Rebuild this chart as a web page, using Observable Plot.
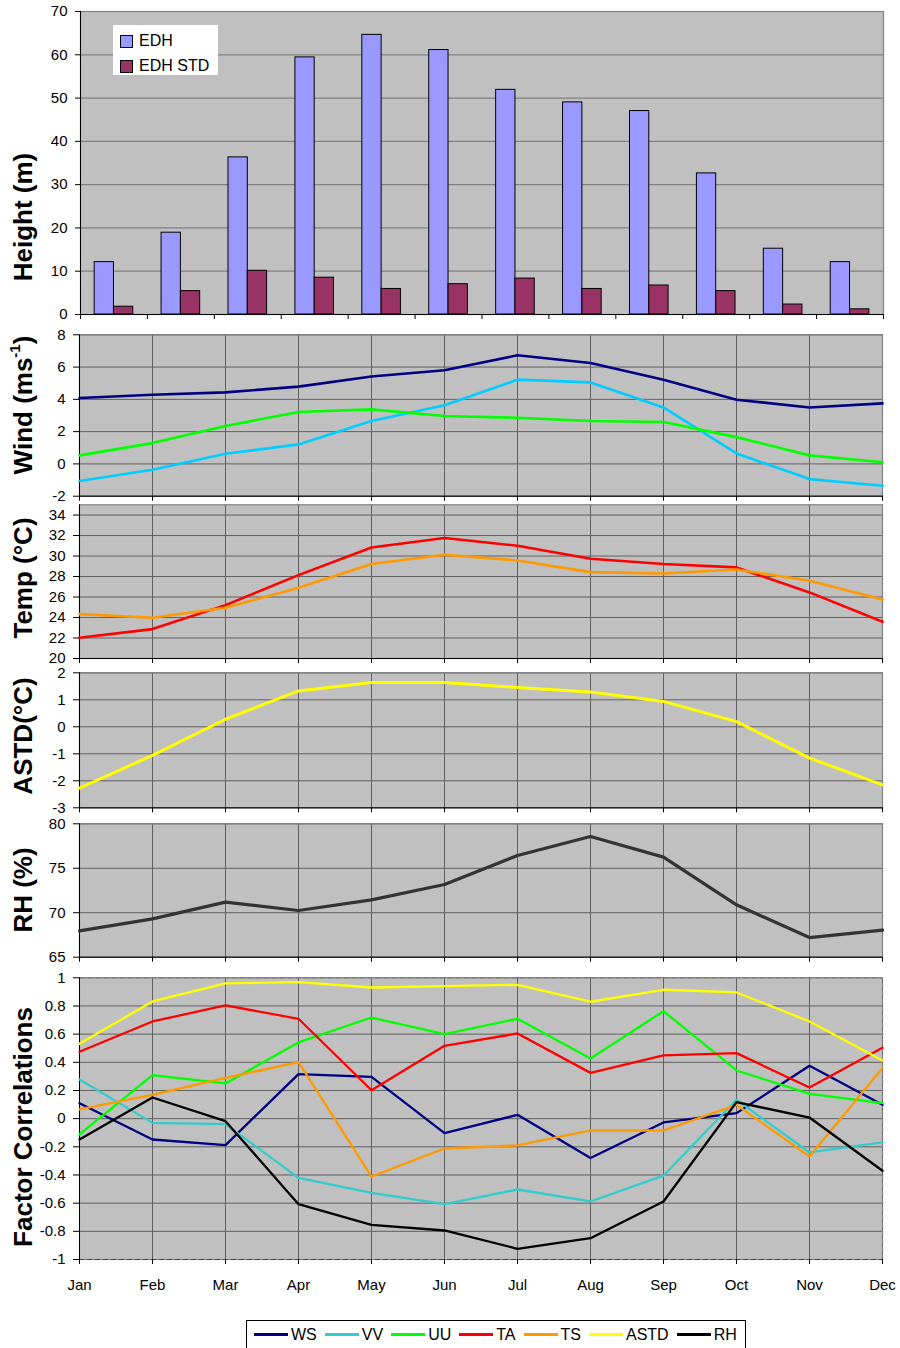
<!DOCTYPE html>
<html><head><meta charset="utf-8">
<script src="https://cdn.jsdelivr.net/npm/d3@7"></script>
<script src="https://cdn.jsdelivr.net/npm/@observablehq/plot@0.6"></script>
<style>
body{margin:0;background:#fff;font-family:"Liberation Sans",Arial,sans-serif;}
#chart{position:relative;width:900px;height:1348px;overflow:hidden;background:#fff;}
.panel{position:absolute;left:0;}
.ytitle{position:absolute;transform:translate(-50%,-50%) rotate(-90deg);font-weight:bold;font-size:26px;white-space:nowrap;color:#000;}
.ytitle sup{font-size:15px;vertical-align:top;position:relative;top:-2px;}
#barLegend{position:absolute;left:113px;top:25px;width:105px;height:50px;background:#fff;font-size:16px;}
#barLegend .it{position:absolute;left:7px;display:flex;align-items:center;}
#barLegend .sw{width:11px;height:11px;border:1px solid #000;margin-right:6px;}
#lineLegend{position:absolute;left:246px;top:1320px;width:500px;height:29px;box-sizing:border-box;border:1px solid #000;display:flex;align-items:center;padding-left:7px;font-size:16px;}
#lineLegend .it{display:flex;align-items:center;margin-right:8px;}
#lineLegend .sw{width:34px;height:3px;margin-right:3px;}
</style></head><body><div id="chart"></div><script>
const months = ["Jan","Feb","Mar","Apr","May","Jun","Jul","Aug","Sep","Oct","Nov","Dec"];

// Height panel
const edh    = [12.1, 18.9, 36.3, 59.4, 64.6, 61.1, 51.9, 49.0, 47.0, 32.6, 15.2, 12.1];
const edhStd = [1.8, 5.4, 10.1, 8.5, 5.9, 7.0, 8.3, 5.9, 6.7, 5.4, 2.3, 1.2];
const heightTicks = [0, 10, 20, 30, 40, 50, 60, 70];

// Wind panel
const ws = [4.08, 4.29, 4.43, 4.79, 5.42, 5.80, 6.73, 6.25, 5.22, 3.98, 3.50, 3.75];
const vv = [-1.06, -0.36, 0.63, 1.21, 2.66, 3.63, 5.22, 5.05, 3.50, 0.65, -0.94, -1.35];
const uu = [0.53, 1.29, 2.35, 3.22, 3.38, 2.97, 2.86, 2.66, 2.60, 1.66, 0.53, 0.10];
const windTicks = [-2, 0, 2, 4, 6, 8];

// Temperature panel
const ta = [22.02, 22.87, 25.21, 28.14, 30.84, 31.76, 31.0, 29.74, 29.22, 28.89, 26.45, 23.58];
const ts = [24.33, 23.97, 24.95, 26.90, 29.22, 30.13, 29.57, 28.43, 28.30, 28.69, 27.59, 25.76];
const tempTicks = [20, 22, 24, 26, 28, 30, 32, 34];

// ASTD panel
const astd = [-2.27, -1.06, 0.28, 1.33, 1.64, 1.64, 1.46, 1.29, 0.94, 0.19, -1.16, -2.15];
const astdTicks = [-3, -2, -1, 0, 1, 2];

// RH panel
const rh = [67.96, 69.31, 71.19, 70.25, 71.45, 73.18, 76.44, 78.58, 76.25, 70.89, 67.21, 68.04];
const rhTicks = [65, 70, 75, 80];

// Factor correlations panel
const corrWS   = [0.110, -0.148, -0.188, 0.316, 0.297, -0.103, 0.027, -0.280, -0.027, 0.039, 0.375, 0.098];
const corrVV   = [0.278, -0.030, -0.039, -0.420, -0.527, -0.607, -0.503, -0.588, -0.404, 0.134, -0.240, -0.169];
const corrUU   = [-0.112, 0.309, 0.250, 0.541, 0.718, 0.600, 0.709, 0.427, 0.763, 0.342, 0.176, 0.110];
const corrTA   = [0.475, 0.690, 0.804, 0.709, 0.202, 0.517, 0.605, 0.325, 0.449, 0.465, 0.221, 0.503];
const corrTS   = [0.065, 0.169, 0.290, 0.401, -0.411, -0.212, -0.190, -0.084, -0.084, 0.098, -0.269, 0.359];
const corrASTD = [0.531, 0.832, 0.960, 0.969, 0.931, 0.941, 0.950, 0.830, 0.915, 0.896, 0.690, 0.413];
const corrRH   = [-0.148, 0.150, -0.018, -0.607, -0.754, -0.794, -0.924, -0.849, -0.588, 0.117, 0.008, -0.370];
const corrTicks = [-1, -0.8, -0.6, -0.4, -0.2, 0, 0.2, 0.4, 0.6, 0.8, 1];
const corrNames = ["WS", "VV", "UU", "TA", "TS", "ASTD", "RH"];
const corrColors = ["#000080", "#33CCCC", "#00FF00", "#FF0000", "#FF9900", "#FFFF00", "#000000"];

const FONT = '"Liberation Sans", Arial, sans-serif';
const W = 900;
const chart = document.getElementById("chart");
const rows = values => months.map((m, i) => ({month: m, value: values[i]}));
function place(svg, top) { svg.classList.add("panel"); svg.style.top = top + "px"; chart.appendChild(svg); }

// ---- Bar panel ----
{
  const mL = 80, mR = 17;
  const bw = (W - mL - mR) / 12;
  const barW = 19.3;
  const outer = (bw - 2 * barW) / 2;
  const svg = Plot.plot({
    width: W, height: 325, marginLeft: mL, marginRight: mR, marginTop: 11, marginBottom: 11,
    style: {background: "transparent", fontFamily: FONT, color: "#000", overflow: "hidden"},
    x: {type: "band", domain: months, padding: 0, round: false},
    y: {domain: [0, 70]},
    marks: [
      Plot.frame({fill: "#C0C0C0", stroke: "none"}),
      Plot.gridY(heightTicks.slice(1), {stroke: "#808080", strokeOpacity: 1, strokeWidth: 1.2}),
      Plot.frame({stroke: "#808080", strokeWidth: 1.2}),
      Plot.barY(rows(edh), {x: "month", y: "value", fill: "#9999FF", stroke: "#000", strokeWidth: 1, insetLeft: outer, insetRight: bw - outer - barW}),
      Plot.barY(rows(edhStd), {x: "month", y: "value", fill: "#993366", stroke: "#000", strokeWidth: 1, insetLeft: outer + barW, insetRight: outer}),
      Plot.ruleY([0], {stroke: "#000"}),
      Plot.ruleX([months[0]], {stroke: "#000", dx: -bw / 2}),
      Plot.axisY(heightTicks, {tickSize: 5, tickPadding: 8, tickFormat: d => String(d), label: null, fontSize: 15}),
      Plot.axisX(months, {tickSize: 5, tickFormat: () => "", label: null, dx: -bw / 2}),
      Plot.axisX([months[11]], {tickSize: 5, tickFormat: () => "", label: null, dx: bw / 2})
    ]
  });
  place(svg, 0);
}

// ---- Line panels ----
function linePanel({svgTop, frameTop, frameBottom, svgBottom, domain, ticks, series, labels = false, dashed = false}) {
  const svg = Plot.plot({
    width: W, height: svgBottom - svgTop,
    marginLeft: 79, marginRight: 18, marginTop: frameTop - svgTop, marginBottom: svgBottom - frameBottom,
    style: {background: "transparent", fontFamily: FONT, color: "#000", overflow: "hidden"},
    x: {type: "point", domain: months, padding: 0, round: false},
    y: {domain},
    marks: [
      Plot.frame({fill: "#C0C0C0", stroke: "none"}),
      Plot.gridY(ticks, {stroke: "#606060", strokeOpacity: 1, strokeWidth: 1}),
      Plot.gridX(months, {stroke: "#606060", strokeOpacity: 1, strokeWidth: 1}),
      Plot.frame({stroke: "#808080", strokeWidth: 1.2, strokeDasharray: dashed ? "5,3" : null}),
      Plot.ruleX([months[0]], {stroke: "#000"}),
      Plot.ruleY([domain[0]], {stroke: dashed ? "#404040" : "#000", strokeDasharray: dashed ? "5,3" : null}),
      ...series.map(s => Plot.line(rows(s.values), {x: "month", y: "value", stroke: s.color, strokeWidth: s.width})),
      Plot.axisY(ticks, {tickSize: 6, tickPadding: 8, tickFormat: d => String(d), label: null, fontSize: 15}),
      Plot.axisX(months, {tickSize: 5, tickPadding: 15, tickFormat: labels ? (d => d) : (() => ""), label: null, fontSize: 15})
    ]
  });
  place(svg, svgTop);
}

linePanel({svgTop: 325, frameTop: 334.3, frameBottom: 495.7, svgBottom: 501, domain: [-2, 8], ticks: windTicks,
  series: [
    {values: ws, color: "#000080", width: 2.6},
    {values: vv, color: "#00CCFF", width: 2.6},
    {values: uu, color: "#00FF00", width: 2.6}
  ]});
linePanel({svgTop: 501, frameTop: 504.3, frameBottom: 658, svgBottom: 665, domain: [20, 35], ticks: tempTicks,
  series: [
    {values: ta, color: "#FF0000", width: 2.6},
    {values: ts, color: "#FF9900", width: 2.6}
  ]});
linePanel({svgTop: 665, frameTop: 672.3, frameBottom: 807.3, svgBottom: 815, domain: [-3, 2], ticks: astdTicks,
  series: [{values: astd, color: "#FFFF00", width: 3}]});
linePanel({svgTop: 815, frameTop: 823.3, frameBottom: 956.7, svgBottom: 967, domain: [65, 80], ticks: rhTicks,
  series: [{values: rh, color: "#333333", width: 3.2}]});
linePanel({svgTop: 967, frameTop: 977.3, frameBottom: 1259, svgBottom: 1305, domain: [-1, 1], ticks: corrTicks, labels: true, dashed: true,
  series: [corrWS, corrVV, corrUU, corrTA, corrTS, corrASTD, corrRH].map((v, i) => ({values: v, color: corrColors[i], width: 2.3}))});

// ---- Y titles ----
const titles = [
  {html: "Height (m)", y: 217},
  {html: "Wind (ms<sup>-1</sup>)", y: 405},
  {html: "Temp (°C)", y: 578},
  {html: "ASTD(°C)", y: 736},
  {html: "RH (%)", y: 890},
  {html: "Factor Correlations", y: 1127}
];
titles.forEach(t => {
  const d = document.createElement("div");
  d.className = "ytitle";
  d.style.left = "23px";
  d.style.top = t.y + "px";
  d.innerHTML = t.html;
  chart.appendChild(d);
});

// ---- Bar legend ----
{
  const lg = document.createElement("div");
  lg.id = "barLegend";
  [["EDH", "#9999FF", 7], ["EDH STD", "#993366", 32]].forEach(([name, color, top]) => {
    const it = document.createElement("div");
    it.className = "it";
    it.style.top = top + "px";
    it.innerHTML = `<span class="sw" style="background:${color}"></span><span>${name}</span>`;
    lg.appendChild(it);
  });
  chart.appendChild(lg);
}

// ---- Line legend ----
{
  const lg = document.createElement("div");
  lg.id = "lineLegend";
  corrNames.forEach((name, i) => {
    const it = document.createElement("div");
    it.className = "it";
    it.innerHTML = `<span class="sw" style="background:${corrColors[i]}"></span><span>${name}</span>`;
    lg.appendChild(it);
  });
  chart.appendChild(lg);
}
</script></body></html>
